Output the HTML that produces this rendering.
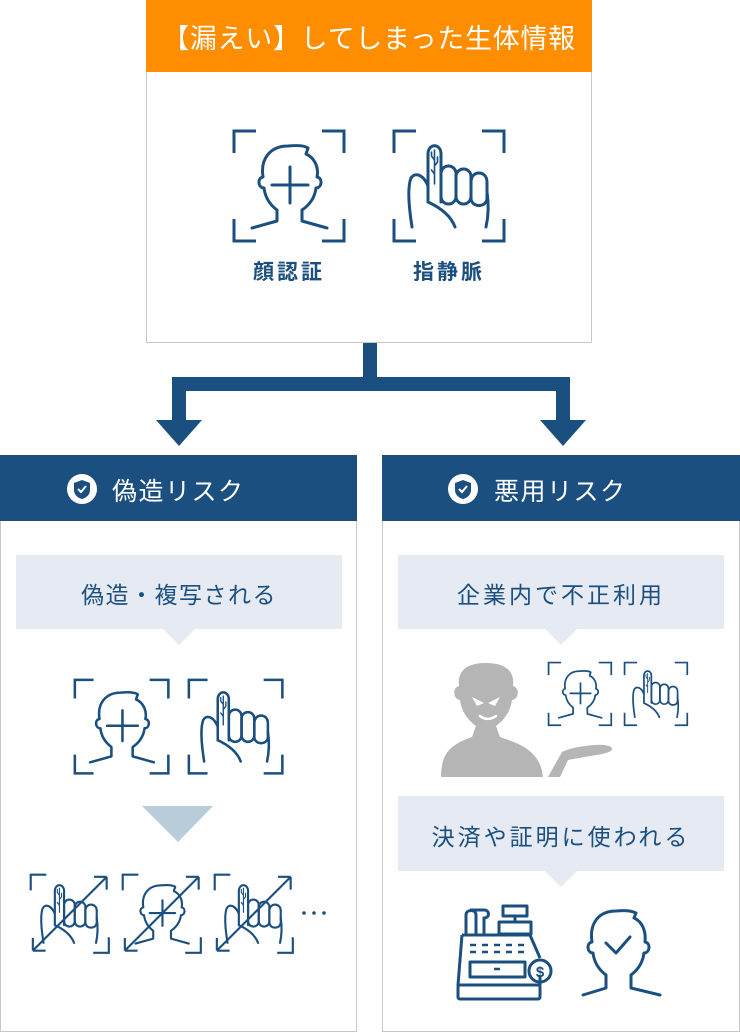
<!DOCTYPE html>
<html><head><meta charset="utf-8"><style>
*{margin:0;padding:0}
body{width:740px;height:1034px;background:#fff;position:relative;overflow:hidden;font-family:"Liberation Sans","Noto Sans CJK JP",sans-serif}
.abs{position:absolute}
.t{position:absolute;text-align:center;white-space:nowrap}
.c{font-size:23px;letter-spacing:3px;color:#1b4f7f}
</style></head><body>
<svg class="abs" style="left:0;top:0" width="740" height="1034" viewBox="0 0 740 1034">
<defs>
<g id="face" fill="none" stroke="#1b4f7f" stroke-width="3" stroke-linecap="round" stroke-linejoin="round">
<path d="M19 98 L44 91 L44 80 C36 74 32 66 31 58 C25 58 24 48 30 47 C27 28 38 16 55 16 C65 15 72 16 75 18 L73 24 C82 28 86 38 84 47 C90 48 89 58 83 58 C82 66 78 74 69 80 L69 91 L94 98"/>
<path d="M57 37 V73 M39 55 H75"/>
</g>
<g id="finger" fill="none" stroke="#1b4f7f" stroke-width="3" stroke-linecap="round" stroke-linejoin="round">
<path d="M35 72 V24 C35 13 48 13 48 24 V72"/>
<rect x="48" y="36" width="15" height="38" rx="7.5"/>
<rect x="63" y="39" width="15" height="35" rx="7.5"/>
<path d="M78 52 C78 40 94 40 94 52 V68 C94 78 78 78 78 68 Z"/>
<path d="M94 62 C96 75 95 88 93 97"/>
<path d="M19 97 C16 78 14 58 18 48 C22 42 30 44 35 56"/>
<path d="M35 72 C48 78 58 86 62 97"/>
<path d="M41.5 20 V54 M41.5 30 L38.5 26 V22 M41.5 36 L44.5 32 V27 M41.5 44 L38.5 40" stroke-width="1.6"/>
</g>
<g id="br" fill="none" stroke="#1b4f7f" stroke-width="3">
<path d="M1 23 V1 H23 M89 1 H111 V23 M1 89 V111 H23 M89 111 H111 V89"/>
</g>
<g id="bra" fill="none" stroke="#1b4f7f" stroke-width="3">
<path d="M1 23 V1 H23 M111 89 V111 H89"/>
<path d="M4 108 L108 4 M4 108 V90 M4 108 H22 M108 4 H90 M108 4 V22"/>
</g>
<g id="shield">
<circle cx="0" cy="0" r="15" fill="#fff"/>
<path d="M0 -9 L8 -6 V1 C8 6 4 9 0 10 C-4 9 -8 6 -8 1 V-6 Z" fill="#1b4f7f"/>
<path d="M-4 0 L-1 3 L4 -3" fill="none" stroke="#fff" stroke-width="2"/>
</g>
</defs>

<rect x="146.5" y="0.5" width="445" height="342" fill="#fff" stroke="#c8c8c8"/>
<rect x="146" y="0" width="446" height="72" fill="#fe8d00"/>
<g transform="translate(233,130)"><use href="#br"/><use href="#face"/></g>
<g transform="translate(393,130)"><use href="#br"/><use href="#finger"/></g>

<g fill="#1b4f7f">
<rect x="363" y="343" width="14" height="48"/>
<rect x="172" y="377" width="398" height="14"/>
<rect x="172" y="377" width="14" height="45"/>
<rect x="556" y="377" width="14" height="45"/>
<path d="M156 420 H202 L179 446 Z"/>
<path d="M540 420 H586 L563 446 Z"/>
</g>

<rect x="0.5" y="455.5" width="356" height="576" fill="#fff" stroke="#c8c8c8"/>
<rect x="0" y="455" width="357" height="66" fill="#1b4f7f"/>
<g transform="translate(82,489)"><use href="#shield"/></g>
<rect x="16" y="555" width="326" height="74" fill="#e5eaf3"/>
<path d="M163 629 H195 L179 645 Z" fill="#e5eaf3"/>
<g transform="translate(74,679) scale(0.85)"><use href="#br"/><use href="#face"/></g>
<g transform="translate(188,679) scale(0.85)"><use href="#br"/><use href="#finger"/></g>
<path d="M142 806 H213 L178 842 Z" fill="#b8ccd9"/>
<g transform="translate(30,874) scale(0.71)"><use href="#bra"/><use href="#finger"/></g>
<g transform="translate(122,874) scale(0.71)"><use href="#bra"/><use href="#face"/></g>
<g transform="translate(214,874) scale(0.71)"><use href="#bra"/><use href="#finger"/></g>
<g fill="#1b4f7f"><circle cx="304" cy="913" r="1.8"/><circle cx="314" cy="913" r="1.8"/><circle cx="324" cy="913" r="1.8"/></g>

<rect x="382.5" y="455.5" width="357" height="576" fill="#fff" stroke="#c8c8c8"/>
<rect x="382" y="455" width="358" height="66" fill="#1b4f7f"/>
<g transform="translate(463,489)"><use href="#shield"/></g>
<rect x="398" y="555" width="326" height="74" fill="#e5eaf3"/>
<path d="M545 629 H577 L561 645 Z" fill="#e5eaf3"/>
<g fill="#b5b5b5">
<path d="M441 777 C441 752 452 744 472 737 L476 726 C465 718 461 708 460 700 C453 699 452 688 459 686 C457 670 468 663 486 663 C504 663 515 670 513 686 C520 688 519 699 512 700 C511 708 507 718 496 726 L500 737 C520 744 540 750 543 777 Z"/>
<path d="M548 777 L562 752 C570 748 582 746 594 745 C606 744 612 746 612 749 C612 752 604 754 590 756 L568 760 L560 777 Z"/>
</g>
<path d="M472 697 L484 703 L477 706 Z M500 697 L488 703 L495 706 Z" fill="#fff"/>
<path d="M480 716 C485 720 490 720 496 716" stroke="#fff" stroke-width="2.5" fill="none" stroke-linecap="round"/>
<g transform="translate(548,662) scale(0.57)"><use href="#br"/><use href="#face"/></g>
<g transform="translate(624,662) scale(0.57)"><use href="#br"/><use href="#finger"/></g>
<rect x="398" y="796" width="326" height="75" fill="#e5eaf3"/>
<path d="M545 871 H577 L561 887 Z" fill="#e5eaf3"/>
<g fill="none" stroke="#1b4f7f" stroke-width="3" stroke-linejoin="round">
<path d="M466 935 V915 C466 909 476 909 476 915 V935 M470 910 H484 C490 910 490 918 484 918 V935"/>
<rect x="503" y="906" width="24" height="10"/><path d="M515 916 V922"/><rect x="499" y="922" width="32" height="12"/>
<path d="M462 935 H530 L540 958 M462 935 L458 985 H540 V975"/>
<rect x="458" y="985" width="82" height="14" rx="2"/>
<rect x="470" y="962" width="55" height="15"/>
<circle cx="540" cy="971" r="11"/>
</g>
<path d="M470 945 h6 M482 945 h6 M494 945 h6 M506 945 h6 M518 945 h6 M470 952 h6 M482 952 h6 M494 952 h6 M506 952 h6 M518 952 h6 M494 969 h6" stroke="#1b4f7f" stroke-width="2.5"/>
<text x="540" y="977" font-size="15" font-weight="bold" fill="#1b4f7f" text-anchor="middle" font-family="Liberation Sans">$</text>
<g fill="none" stroke="#1b4f7f" stroke-width="3" stroke-linecap="round" stroke-linejoin="round">
<path d="M583 995 L606 988 L606 975 C598 969 594 961 593 953 C587 953 586 943 592 942 C589 923 599 911 616 911 C626 910 632 911 636 913 L634 918 C643 922 646 932 645 942 C651 943 650 953 644 953 C643 961 639 969 631 975 L631 988 L660 995"/>
<path d="M606 943 L616 953 L630 937"/>
</g>
</svg>

<div class="t" style="left:146px;top:17px;width:446px;font-size:27px;letter-spacing:0.7px;color:#fff">【漏えい】してしまった生体情報</div>
<div class="t" style="left:233px;top:256px;width:112px;font-size:21px;letter-spacing:3px;font-weight:bold;color:#1b4f7f">顔認証</div>
<div class="t" style="left:393px;top:256px;width:112px;font-size:21px;letter-spacing:3px;font-weight:bold;color:#1b4f7f">指静脈</div>
<div class="t" style="left:112px;top:472px;font-size:25px;letter-spacing:1.5px;color:#fff">偽造リスク</div>
<div class="t" style="left:494px;top:472px;font-size:25px;letter-spacing:1.5px;color:#fff">悪用リスク</div>
<div class="t c" style="left:16px;top:576px;width:326px;letter-spacing:1.5px">偽造・複写される</div>
<div class="t c" style="left:398px;top:576px;width:326px">企業内で不正利用</div>
<div class="t c" style="left:398px;top:818px;width:326px">決済や証明に使われる</div>
</body></html>
